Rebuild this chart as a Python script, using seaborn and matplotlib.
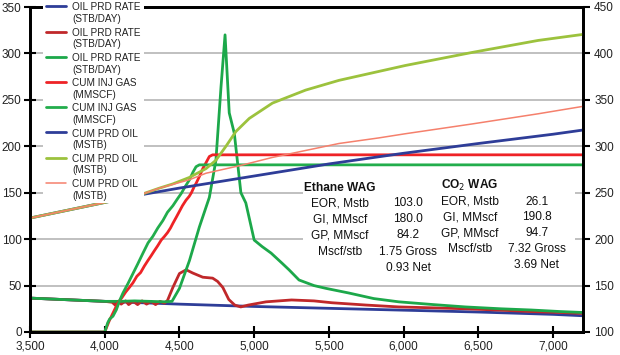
import numpy as np
import matplotlib
matplotlib.use("Agg")
import matplotlib.pyplot as plt
import seaborn as sns
from matplotlib.ticker import StrMethodFormatter
from matplotlib.patches import Rectangle
from matplotlib.legend_handler import HandlerLine2D

# ---------------- data ----------------
base_rate_x = [3500, 4000, 4500, 5000, 5500, 6000, 6500, 7000, 7200]
base_rate_y = [36.5, 33, 30, 27.5, 25.5, 23.5, 21.5, 19, 17.5]

co2_rate_x = [3500, 4000, 4050, 4070, 4090, 4110, 4140, 4160, 4190, 4220, 4250, 4280,
              4310, 4340, 4370, 4400, 4420, 4456, 4500, 4545, 4589, 4656, 4722, 4755,
              4790, 4830, 4870, 4910, 4960, 5080, 5250, 5400, 5520, 5750, 5967, 6200,
              6413, 6650, 6853, 7050, 7200]
co2_rate_y = [36.5, 33, 32, 29, 33, 30, 33.5, 29.5, 33, 29.5, 33.5, 30,
              33, 29.5, 33, 31, 34, 48, 63, 67, 63.5, 59, 58, 54.5,
              48, 35, 29, 27, 29, 32.5, 34.5, 33.5, 31.5, 29, 27, 26,
              25, 23.5, 22, 21, 20]

eth_rate_x = [3500, 4000, 4100, 4200, 4300, 4400, 4450, 4500, 4567, 4633, 4700, 4744,
              4778, 4805, 4833, 4867, 4911, 4944, 5000, 5053, 5113, 5187, 5233, 5300,
              5400, 5480, 5633, 5800, 5967, 6200, 6413, 6650, 6853, 7050, 7200]
eth_rate_y = [36.5, 33, 33, 33.5, 33, 32.5, 33, 47, 77, 113, 145, 185,
              264, 320, 236, 214, 150, 139, 99, 92, 85, 74, 67, 56,
              50, 47, 42, 36, 32.5, 29.5, 27, 25, 23.7, 22, 21]

co2_inj_x = [3500, 4000, 4030, 4060, 4090, 4115, 4140, 4165, 4189, 4215, 4240, 4265,
             4289, 4310, 4330, 4355, 4378, 4400, 4420, 4440, 4456, 4480, 4500, 4520,
             4544, 4565, 4580, 4600, 4611, 4635, 4656, 4680, 4700, 4722, 7200]
co2_inj_y = [0, 0, 12, 22, 32, 37, 43, 48, 53, 60, 64, 71,
             77, 82, 87, 93, 99, 103, 107, 112, 117, 124, 130, 136,
             142, 146, 150, 157, 160, 168, 176, 183, 189, 190.8, 190.8]

eth_inj_x = [3500, 4000, 4020, 4033, 4055, 4078, 4100, 4122, 4155, 4189, 4220, 4256,
             4290, 4322, 4355, 4389, 4420, 4456, 4485, 4511, 4540, 4567, 4590, 4611,
             4633, 7200]
eth_inj_y = [0, 0, 10, 14, 17, 24, 34, 42, 52, 63, 73, 85,
             96, 103, 112, 120, 129, 136, 143, 149, 157, 164, 172, 178,
             180, 180]

base_cum_x = [3500, 4000, 4233, 4500, 5000, 5500, 5833, 6000, 6500, 7000, 7200]
base_cum_y = [222.7, 239.5, 247.5, 255, 268, 281, 288.7, 292.5, 303, 313, 317.5]

eth_cum_x = [3500, 4000, 4233, 4367, 4456, 4567, 4678, 4744, 4811, 4878, 4967, 5122,
             5344, 5567, 6011, 6456, 6900, 7200]
eth_cum_y = [222.7, 239.5, 247.5, 255, 259.5, 266.5, 276, 285, 300, 316, 330, 346.5,
             360.5, 371, 387, 401, 414, 420.5]

co2_cum_x = [3500, 4000, 4233, 4367, 4456, 4567, 4678, 4900, 5122, 5567, 5833, 6011,
             6456, 6900, 7200]
co2_cum_y = [222.7, 239.5, 247.5, 255, 259, 264, 271, 279, 288, 303, 309, 313.5,
             324, 335, 343]

x_ticks = [3500, 4000, 4500, 5000, 5500, 6000, 6500, 7000]
left_ticks = [0, 50, 100, 150, 200, 250, 300, 350]
right_ticks = [100, 150, 200, 250, 300, 350, 400, 450]

rate_label = "OIL PRD RATE\n(STB/DAY)"
inj_label = "CUM INJ GAS\n(MMSCF)"
cum_label = "CUM PRD OIL\n(MSTB)"

table_eth_title = "Ethane WAG"
table_eth_labels = ["EOR, Mstb", "GI, MMscf", "GP, MMscf", "Mscf/stb", ""]
table_eth_values = ["103.0", "180.0", "84.2", "1.75 Gross", "0.93 Net"]
table_co2_title = "CO$_2$ WAG"
table_co2_labels = ["EOR, Mstb", "GI, MMscf", "GP, MMscf", "Mscf/stb", ""]
table_co2_values = ["26.1", "190.8", "94.7", "7.32 Gross", "3.69 Net"]

# ---------------- style ----------------
sns.set_theme(style="white")
plt.rcParams['font.family'] = ['Liberation Sans', 'DejaVu Sans']
narrow = ['Liberation Sans Narrow', 'Liberation Sans', 'DejaVu Sans']

BLUE = '#2e3d98'
DRED = '#c0282a'
GREEN = '#1ca84a'
RED = '#ee2326'
GREEN2 = '#22ad4c'
YGREEN = '#9cc23d'
SALMON = '#f5806c'

fig = plt.figure(figsize=(6.2, 3.55), dpi=100)
W, H = 620, 355
L, R, T, B = 30, 583, 7, 332
ax = fig.add_axes([L / W, 1 - B / H, (R - L) / W, (B - T) / H])

sns.lineplot(x=base_rate_x, y=base_rate_y, ax=ax, color=BLUE, lw=2, label=rate_label)
sns.lineplot(x=co2_rate_x, y=co2_rate_y, ax=ax, color=DRED, lw=2, label=rate_label)
sns.lineplot(x=eth_rate_x, y=eth_rate_y, ax=ax, color=GREEN, lw=2, label=rate_label)
sns.lineplot(x=co2_inj_x, y=co2_inj_y, ax=ax, color=RED, lw=2, label=inj_label)
sns.lineplot(x=eth_inj_x, y=eth_inj_y, ax=ax, color=GREEN2, lw=2, label=inj_label)

ax.set_xlim(3500, 7200)
ax.set_ylim(0, 350)
ax.set_xticks(x_ticks)
ax.set_yticks(left_ticks)
ax.xaxis.set_major_formatter(StrMethodFormatter('{x:,.0f}'))
ax.yaxis.grid(True, color='#b5b5b5', lw=1.2)
ax.xaxis.grid(False)
ax.set_xlabel("")
ax.set_ylabel("")

ax2 = ax.twinx()
sns.lineplot(x=base_cum_x, y=base_cum_y, ax=ax2, color=BLUE, lw=2, label=cum_label)
sns.lineplot(x=eth_cum_x, y=eth_cum_y, ax=ax2, color=YGREEN, lw=2, label=cum_label)
sns.lineplot(x=co2_cum_x, y=co2_cum_y, ax=ax2, color=SALMON, lw=1.1, label=cum_label)
ax2.set_ylim(100, 450)
ax2.set_yticks(right_ticks)
ax2.set_ylabel("")
ax2.grid(False)

for a in (ax, ax2):
    for s in a.spines.values():
        s.set_color('black')
        s.set_linewidth(2)
ax.tick_params(axis='both', which='major', direction='inout', length=8, width=1.5,
               color='black', labelsize=8.5, pad=2, left=True, bottom=True)
ax2.tick_params(axis='y', direction='out', length=5, width=1.5, color='black',
                labelsize=8.5, pad=3, right=True)
for lab in ax.get_xticklabels() + ax.get_yticklabels() + ax2.get_yticklabels():
    lab.set_color('#222222')

# table background box
ax.add_patch(Rectangle(((303 - L) / (R - L), (B - 275) / (B - T)),
                       (575 - 303) / (R - L), (275 - 175) / (B - T),
                       transform=ax.transAxes, facecolor='white', edgecolor='none',
                       zorder=1))

def ax_xy(px, py):
    return (px - L) / (R - L), (B - py) / (B - T)

tfs = 8.6
x0, y0 = ax_xy(340, 188)
ax2.text(x0, y0, table_eth_title, transform=ax2.transAxes, ha='center', va='center',
         fontsize=tfs, fontweight='bold', family=narrow, color='#111111')
for i, py in enumerate([203, 219, 235, 252, 268]):
    xa, ya = ax_xy(340, py)
    xb, _ = ax_xy(408, py)
    ax2.text(xa, ya, table_eth_labels[i], transform=ax2.transAxes, ha='center',
             va='center', fontsize=tfs, family=narrow, color='#111111')
    ax2.text(xb, ya, table_eth_values[i], transform=ax2.transAxes, ha='center',
             va='center', fontsize=tfs, family=narrow, color='#111111')
x0, y0 = ax_xy(470, 185)
ax2.text(x0, y0, table_co2_title, transform=ax2.transAxes, ha='center', va='center',
         fontsize=tfs, fontweight='bold', family=narrow, color='#111111')
for i, py in enumerate([202, 217, 233, 249, 265]):
    xa, ya = ax_xy(470, py)
    xb, _ = ax_xy(537, py)
    ax2.text(xa, ya, table_co2_labels[i], transform=ax2.transAxes, ha='center',
             va='center', fontsize=tfs, family=narrow, color='#111111')
    ax2.text(xb, ya, table_co2_values[i], transform=ax2.transAxes, ha='center',
             va='center', fontsize=tfs, family=narrow, color='#111111')


# legend: handle aligned with the first line of each two-line label
class TopLineHandler(HandlerLine2D):
    def create_artists(self, legend, orig_handle, xdescent, ydescent, width, height,
                       fontsize, trans):
        arts = super().create_artists(legend, orig_handle, xdescent, ydescent, width,
                                      height, fontsize, trans)
        for a in arts:
            a.set_ydata(np.asarray(a.get_ydata(), dtype=float) + 0.75 * fontsize)
        return arts


h1, l1 = ax.get_legend_handles_labels()
h2, l2 = ax2.get_legend_handles_labels()
if ax.get_legend() is not None:
    ax.get_legend().remove()
if ax2.get_legend() is not None:
    ax2.get_legend().remove()
lx, ly = ax_xy(43, 0)
handles = h1 + h2
leg = ax2.legend(handles, l1 + l2, loc='upper left', bbox_to_anchor=(lx, ly),
                 borderaxespad=0, frameon=True, fancybox=False, framealpha=1,
                 facecolor='white', edgecolor='none', handlelength=2.0,
                 handletextpad=0.7, labelspacing=0.36, borderpad=0.25,
                 prop={'family': narrow, 'size': 7.2},
                 handler_map={h: TopLineHandler() for h in handles})
leg.set_zorder(10)
for t in leg.get_texts():
    t.set_color('#222222')

fig.savefig("out.png", dpi=100)
